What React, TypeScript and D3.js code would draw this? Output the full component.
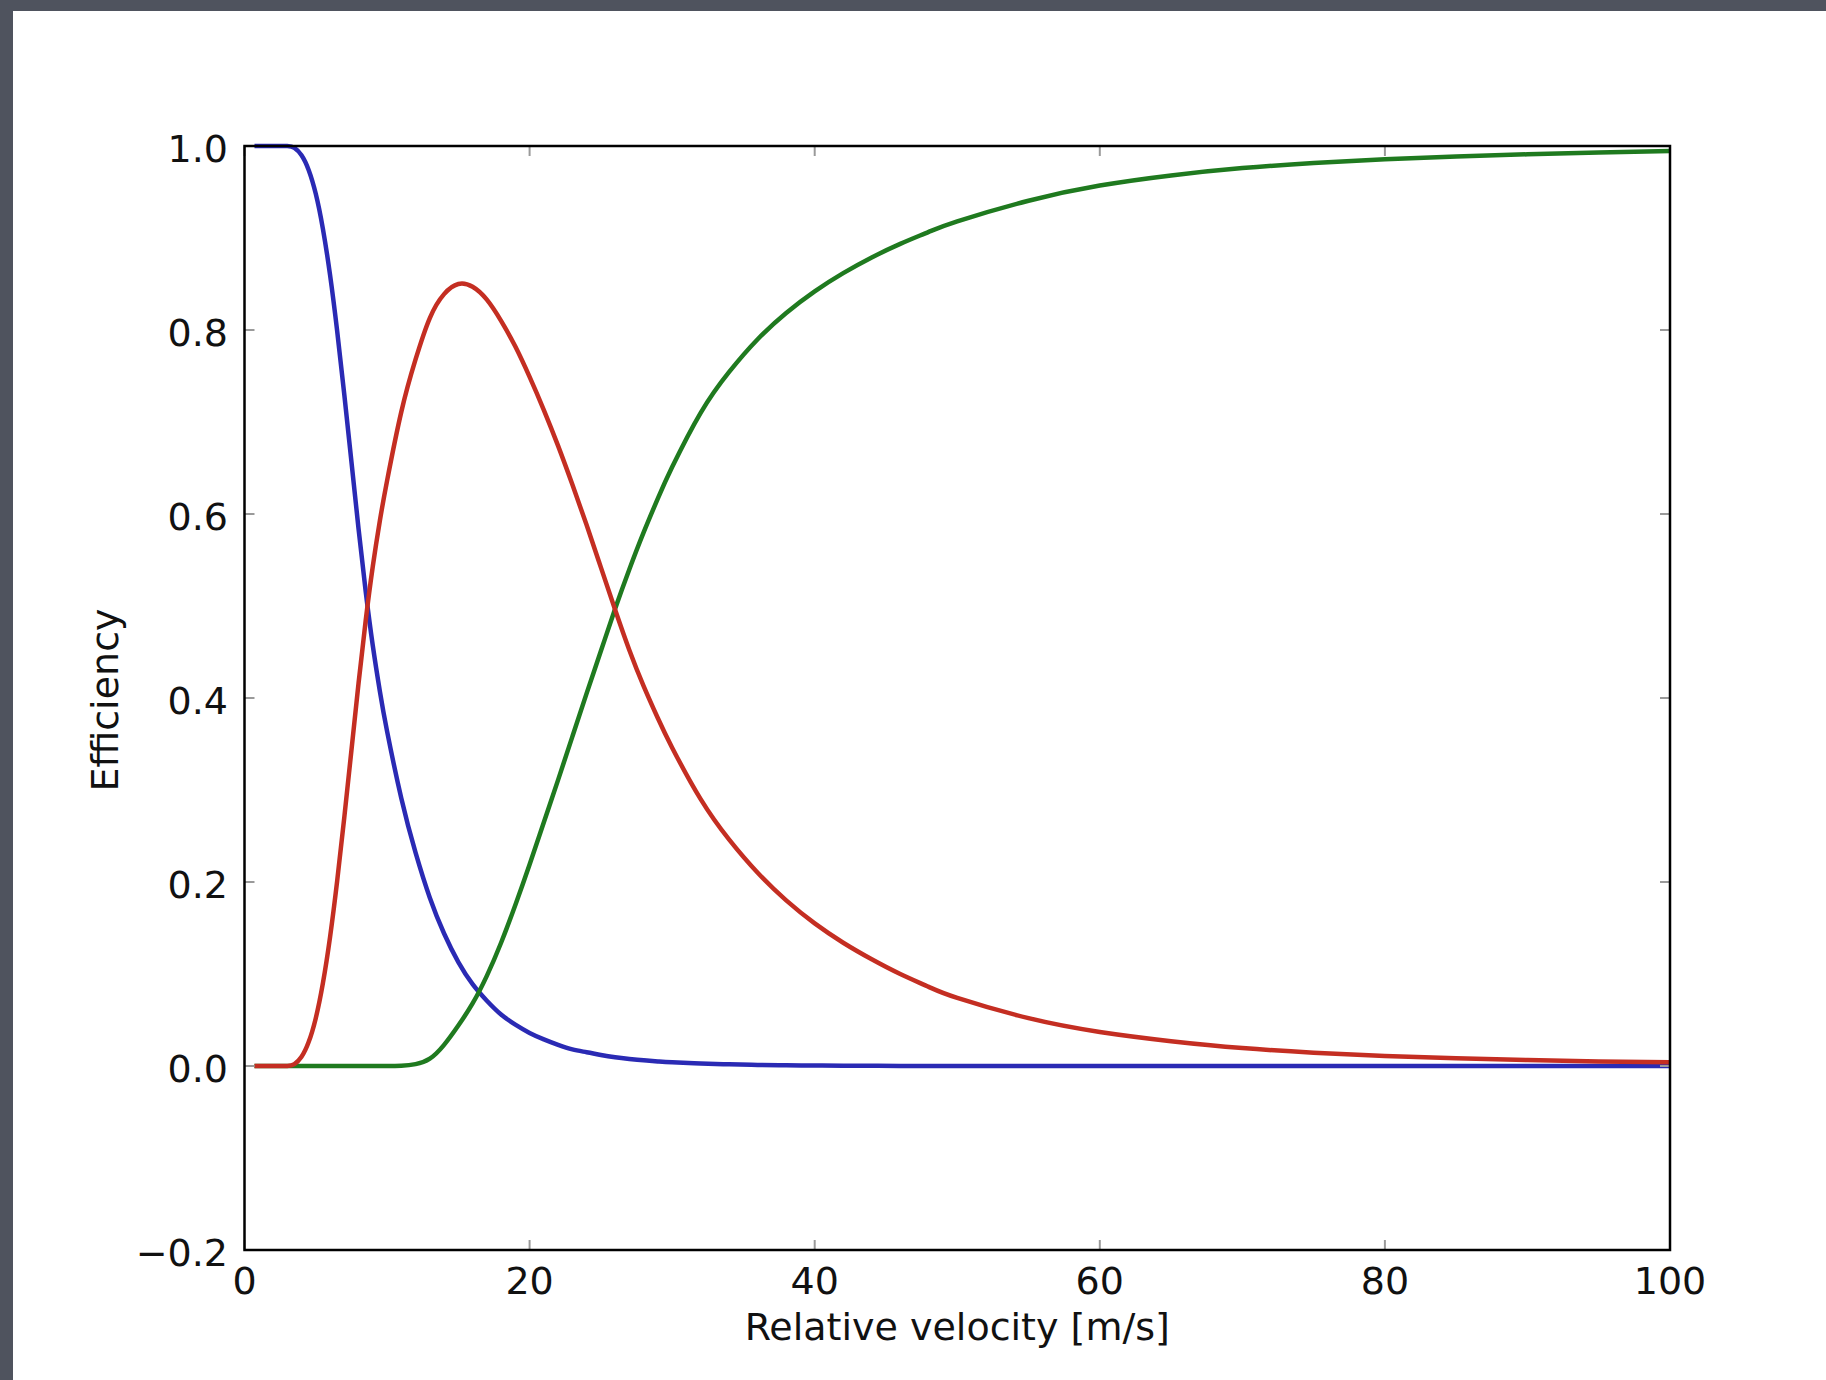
import React from 'react';
import * as d3 from 'd3';

// Relative velocity samples [m/s]
const velocity = [
  0.7, 2, 3, 3.5, 4, 4.5, 5, 5.5, 6, 6.5, 7, 7.5, 8, 8.5, 9, 9.5, 10,
  11, 12, 13, 14, 15, 16, 17, 18, 19, 20, 21, 22, 23, 24, 25, 26, 27, 28, 29, 30,
  32, 34, 36, 38, 40, 42, 44, 46, 48, 50,
  55, 60, 65, 70, 75, 80, 85, 90, 95, 100,
];

// Efficiency of the three outcomes at each velocity
const blueSeries = [
  1, 1, 1, 0.998, 0.99, 0.974, 0.948, 0.91, 0.86, 0.799, 0.73, 0.657, 0.584, 0.516, 0.457, 0.407, 0.364,
  0.291, 0.232, 0.183, 0.144, 0.113, 0.089, 0.071, 0.056, 0.045, 0.036, 0.029, 0.023, 0.018, 0.015, 0.012, 0.0095, 0.0077, 0.0062, 0.005, 0.004,
  0.0027, 0.0018, 0.0012, 0.0008, 0.0005, 0.0003, 0.0002, 0.0001, 0, 0,
  0, 0, 0, 0, 0, 0, 0, 0, 0, 0,
];

const redSeries = [
  0, 0, 0, 0.002, 0.01, 0.026, 0.052, 0.09, 0.14, 0.201, 0.27, 0.343, 0.416, 0.484, 0.543, 0.593, 0.636,
  0.711, 0.768, 0.813, 0.839, 0.85, 0.847, 0.833, 0.81, 0.782, 0.749, 0.713, 0.674, 0.632, 0.588, 0.542, 0.496, 0.452, 0.413, 0.378, 0.346,
  0.29, 0.246, 0.21, 0.18, 0.155, 0.134, 0.116, 0.1, 0.086, 0.074,
  0.052, 0.037, 0.027, 0.0195, 0.0145, 0.011, 0.0085, 0.0065, 0.005, 0.004,
];

const greenSeries = [
  0, 0, 0, 0, 0, 0, 0, 0, 0, 0, 0, 0, 0, 0, 0, 0, 0,
  0.0003, 0.002, 0.008, 0.023, 0.044, 0.068, 0.098, 0.134, 0.175, 0.219, 0.265, 0.311, 0.358, 0.405, 0.451, 0.497, 0.54, 0.58, 0.617, 0.651,
  0.71, 0.7545, 0.79, 0.8185, 0.842, 0.8618, 0.8788, 0.8936, 0.9066, 0.9181,
  0.9405, 0.957, 0.968, 0.976, 0.9815, 0.9855, 0.9885, 0.991, 0.993, 0.9945,
];

const xTicks = [0, 20, 40, 60, 80, 100];
const yTicks = [-0.2, 0, 0.2, 0.4, 0.6, 0.8, 1.0];

const W = 1826;
const H = 1380;
const box = { left: 244.5, right: 1670, top: 146, bottom: 1250 };
const FONT = '"DejaVu Sans", "Bitstream Vera Sans", sans-serif';
const FS = 38;
const TICK = 10;

const fmtY = (v: number) => (v < 0 ? '\u2212' + Math.abs(v).toFixed(1) : v.toFixed(1));

export default function App() {
  const x = d3.scaleLinear().domain([0, 100]).range([box.left, box.right]);
  const y = d3.scaleLinear().domain([-0.2, 1]).range([box.bottom, box.top]);

  const line = d3
    .line<number>()
    .x((_, i) => x(velocity[i]))
    .y((d) => y(d))
    .curve(d3.curveNatural);

  // drawn in this order: blue at the bottom, red on top
  const series = [
    { key: 'blue', data: blueSeries, color: '#2a2ab4' },
    { key: 'green', data: greenSeries, color: '#1f7a1f' },
    { key: 'red', data: redSeries, color: '#c42e22' },
  ];

  return (
    <svg
      width={W}
      height={H}
      viewBox={`0 0 ${W} ${H}`}
      style={{ position: 'absolute', left: 0, top: 0, display: 'block' }}
      fontFamily={FONT}
    >
      <rect x={0} y={0} width={W} height={H} fill="#ffffff" />
      {/* dark window edge along top and left */}
      <rect x={0} y={0} width={W} height={11} fill="#4f535e" />
      <rect x={0} y={0} width={13} height={H} fill="#4f535e" />

      {series.map((s) => (
        <path
          key={s.key}
          d={line(s.data) || ''}
          fill="none"
          stroke={s.color}
          strokeWidth={4.5}
          strokeLinejoin="round"
        />
      ))}

      {/* inward ticks on all four sides */}
      <g stroke="#9a9a9a" strokeWidth={2}>
        {xTicks.map((t) => (
          <g key={`xt${t}`}>
            <line x1={x(t)} x2={x(t)} y1={box.bottom} y2={box.bottom - TICK} />
            <line x1={x(t)} x2={x(t)} y1={box.top} y2={box.top + TICK} />
          </g>
        ))}
        {yTicks.map((t) => (
          <g key={`yt${t}`}>
            <line x1={box.left} x2={box.left + TICK} y1={y(t)} y2={y(t)} />
            <line x1={box.right} x2={box.right - TICK} y1={y(t)} y2={y(t)} />
          </g>
        ))}
      </g>

      <rect
        x={box.left}
        y={box.top}
        width={box.right - box.left}
        height={box.bottom - box.top}
        fill="none"
        stroke="#000"
        strokeWidth={2.5}
      />

      <g fontSize={FS} fill="#111">
        {xTicks.map((t) => (
          <text key={`xl${t}`} x={x(t)} y={1294} textAnchor="middle">
            {t}
          </text>
        ))}
        {yTicks.map((t) => (
          <text key={`yl${t}`} x={228} y={y(t) + 16} textAnchor="end">
            {fmtY(t)}
          </text>
        ))}
        <text x={(box.left + box.right) / 2} y={1340} textAnchor="middle">
          Relative velocity [m/s]
        </text>
        <text
          transform={`translate(118, ${(box.top + box.bottom) / 2 + 2}) rotate(-90)`}
          textAnchor="middle"
        >
          Efficiency
        </text>
      </g>
    </svg>
  );
}
